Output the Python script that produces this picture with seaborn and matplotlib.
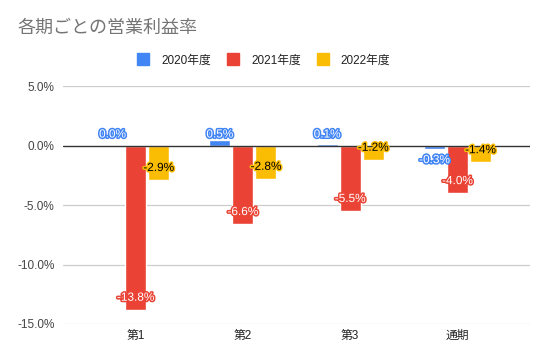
import pandas as pd
import seaborn as sns
import matplotlib.pyplot as plt
import matplotlib.patheffects as pe
from matplotlib.lines import Line2D

periods = ['第1', '第2', '第3', '通期']
years = ['2020年度', '2021年度', '2022年度']
margin_2020 = [0.0, 0.5, 0.1, -0.3]
margin_2021 = [-13.8, -6.6, -5.5, -4.0]
margin_2022 = [-2.9, -2.8, -1.2, -1.4]
colors = ['#4285F4', '#EA4335', '#FBBC04']

df = pd.DataFrame({
    'period': periods * 3,
    'year': [years[0]] * 4 + [years[1]] * 4 + [years[2]] * 4,
    'value': margin_2020 + margin_2021 + margin_2022,
})

sns.set_theme(style='white')
plt.rcParams['font.family'] = ['Liberation Sans', 'Noto Sans CJK JP']

fig = plt.figure(figsize=(5.47, 3.6), dpi=100)
ax = fig.add_axes([63 / 547, 0.1, 467 / 547, 0.661])

sns.barplot(data=df, x='period', y='value', hue='year', palette=colors,
            width=0.6435, gap=0.086, ax=ax, legend=False, saturation=1)

ax.set_ylim(-15, 5)
ax.set_xlim(-0.676, 3.676)
ax.set_yticks([-15, -10, -5, 0, 5])
ax.set_yticklabels([f'{t:.1f}%' for t in [-15, -10, -5, 0, 5]],
                   color='#444444', fontsize=8.5)
ax.tick_params(axis='y', length=0, pad=6)
ax.tick_params(axis='x', length=0, pad=4, labelsize=8.5, labelcolor='#222222')
ax.set_xlabel('')
ax.set_ylabel('')
for s in ax.spines.values():
    s.set_visible(False)
for t in [-15, -10, -5, 5]:
    ax.axhline(t, color='#cccccc', lw=0.9, zorder=0)
ax.axhline(0, color='#333333', lw=1, zorder=3)

# data labels
text_cols = ['white', 'white', 'black']
for i, cont in enumerate(ax.containers):
    for bar in cont:
        v = bar.get_height()
        x = bar.get_x() + bar.get_width() / 2
        if i == 0:
            if v >= 0:
                y, off = 0, 11
            else:
                y, off = v, -11
        else:
            y, off = v, 12
        ax.annotate(f'{v:.1f}%', (x, y), xytext=(0, off),
                    textcoords='offset pixels', ha='center', va='center',
                    fontsize=8.5, color=text_cols[i], zorder=5,
                    path_effects=[pe.withStroke(linewidth=2.2,
                                                foreground=colors[i])])

fig.text(17 / 547, 1 - 28 / 360, '各期ごとの営業利益率', fontsize=13,
         color='#757575', va='center', ha='left')

handles = [Line2D([0], [0], marker='s', linestyle='', markersize=8,
                  markerfacecolor=c, markeredgecolor=c) for c in colors]
fig.legend(handles, years, loc='center', bbox_to_anchor=(261 / 547, 1 - 60.5 / 360),
           ncol=3, frameon=False, fontsize=8.5, handletextpad=0.5,
           columnspacing=0.9, labelcolor='#222222')

plt.savefig('out.png', dpi=100)
